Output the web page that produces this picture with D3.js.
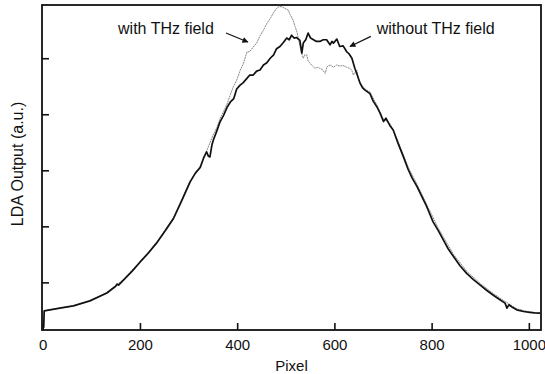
<!DOCTYPE html>
<html>
<head>
<meta charset="utf-8">
<script src="https://cdn.jsdelivr.net/npm/d3@7"></script>
<style>
  body { margin: 0; background: #fff; }
  text { font-family: "Liberation Sans", Arial, Helvetica, sans-serif; fill: #111; }
</style>
</head>
<body>
<div id="graph"></div>
<script>
// chart size, same as the window
var width = 545;
var height = 374;

// x ticks (pixel index of the array detector)
var xTicks = [0, 200, 400, 600, 800, 1000];
// unlabelled y ticks, arbitrary units
var yTicks = [1, 2, 3, 4, 5];

// without THz field (black, thick)
var withoutPixel = [0, 2, 3, 35, 63, 97, 132, 150, 153, 156, 166, 184, 200, 217, 234, 252, 269, 286, 303, 314, 324, 331, 337, 341, 344, 348, 351, 358, 365, 372, 379, 386, 393, 399, 406, 412, 420, 426, 433, 440, 447, 454, 461, 468, 475, 481, 488, 495, 502, 507, 512, 517, 522, 529, 533, 536, 541, 546, 551, 557, 563, 570, 577, 584, 591, 595, 598, 605, 611, 618, 625, 630, 636, 642, 647, 653, 658, 663, 668, 673, 680, 687, 694, 701, 706, 714, 721, 731, 742, 752, 760, 770, 780, 790, 803, 814, 824, 834, 845, 858, 872, 886, 900, 913, 927, 939, 951, 955, 959, 967, 975, 989, 1002, 1012, 1023];
var withoutOutput = [0.18, 0.2, 0.49, 0.54, 0.58, 0.67, 0.81, 0.93, 0.97, 0.95, 1.04, 1.2, 1.36, 1.52, 1.7, 1.92, 2.14, 2.46, 2.79, 2.95, 3.05, 3.22, 3.33, 3.25, 3.24, 3.45, 3.54, 3.7, 3.87, 3.98, 4.12, 4.22, 4.28, 4.45, 4.52, 4.56, 4.64, 4.7, 4.7, 4.77, 4.79, 4.88, 4.92, 5.0, 5.06, 5.17, 5.21, 5.28, 5.36, 5.33, 5.41, 5.36, 5.37, 5.32, 5.09, 5.27, 5.33, 5.45, 5.36, 5.33, 5.3, 5.3, 5.33, 5.33, 5.24, 5.3, 5.27, 5.34, 5.21, 5.22, 5.12, 5.08, 5.0, 4.82, 4.7, 4.55, 4.47, 4.43, 4.4, 4.37, 4.23, 4.14, 4.02, 3.87, 3.93, 3.8, 3.72, 3.48, 3.24, 3.01, 2.86, 2.71, 2.53, 2.35, 2.08, 1.92, 1.76, 1.6, 1.46, 1.3, 1.16, 1.05, 0.95, 0.86, 0.77, 0.7, 0.63, 0.54, 0.6, 0.55, 0.51, 0.48, 0.465, 0.455, 0.45];

// with THz field (grey, thin)
var withPixel = [0, 2, 3, 35, 63, 97, 132, 166, 200, 234, 269, 303, 324, 337, 350, 358, 365, 372, 379, 386, 392, 399, 406, 413, 420, 426, 433, 440, 447, 454, 461, 468, 474, 481, 486, 492, 498, 505, 510, 515, 519, 523, 526, 529, 532, 536, 539, 543, 546, 550, 555, 560, 565, 570, 575, 581, 585, 591, 598, 605, 611, 618, 625, 632, 636, 639, 643, 646, 650, 653, 663, 673, 687, 700, 714, 731, 752, 770, 790, 814, 845, 872, 900, 927, 951, 975, 1002, 1023];
var withOutput = [0.18, 0.2, 0.49, 0.54, 0.58, 0.67, 0.82, 1.05, 1.37, 1.71, 2.16, 2.81, 3.08, 3.34, 3.62, 3.76, 3.93, 4.05, 4.18, 4.35, 4.49, 4.61, 4.78, 4.91, 5.11, 5.12, 5.2, 5.27, 5.4, 5.5, 5.62, 5.71, 5.8, 5.89, 5.92, 5.92, 5.89, 5.86, 5.76, 5.68, 5.57, 5.47, 5.35, 5.21, 5.1, 5.0, 5.06, 5.06, 4.95, 4.91, 4.86, 4.82, 4.84, 4.82, 4.8, 4.73, 4.85, 4.88, 4.84, 4.88, 4.86, 4.87, 4.84, 4.82, 4.78, 4.7, 4.76, 4.79, 4.62, 4.56, 4.45, 4.4, 4.17, 3.92, 3.84, 3.52, 3.05, 2.75, 2.39, 1.96, 1.5, 1.2, 0.98, 0.8, 0.66, 0.53, 0.47, 0.45];

// the two labels with their arrows, in data units
var labelText = ["with THz field", "without THz field"];
var labelAt = [[155, 5.43], [687, 5.43]];
var arrowFrom = [[377, 5.45], [675, 5.39]];
var arrowTo = [[422, 5.29], [632, 5.21]];

window.onload = start;

function start() {
    var svg = d3.select('#graph').append('svg')
        .attr('width', width)
        .attr('height', height);

    svg.append('rect').attr('width', width).attr('height', height).attr('fill', '#fff');

    var left = 42, right = 541, top = 5, bottom = 330;

    var xScale = d3.scaleLinear().domain([-1.5, 1025]).range([left, right]);
    var yScale = d3.scaleLinear().domain([0.15, 5.95]).range([bottom, top]);

    var defs = svg.append('defs');
    defs.append('marker')
        .attr('id', 'head')
        .attr('viewBox', '0 0 10 10')
        .attr('refX', 9).attr('refY', 5)
        .attr('markerWidth', 9).attr('markerHeight', 6)
        .attr('markerUnits', 'userSpaceOnUse')
        .attr('orient', 'auto')
        .append('path')
        .attr('d', 'M0,0 L10,5 L0,10 Z')
        .attr('fill', '#111');

    // x axis, ticks pointing in
    var xAxis = svg.append('g')
        .attr('transform', 'translate(0,' + bottom + ')')
        .call(d3.axisBottom(xScale).tickValues(xTicks).tickFormat(d3.format('d'))
            .tickSizeInner(-7).tickSizeOuter(0).tickPadding(9));
    xAxis.select('.domain').remove();
    xAxis.selectAll('line').attr('stroke', '#111').attr('stroke-width', 1.6);
    xAxis.selectAll('text').attr('font-size', 15).attr('fill', '#111')
        .attr('font-family', '"Liberation Sans", Arial, sans-serif');

    var yAxis = svg.append('g')
        .attr('transform', 'translate(' + left + ',0)')
        .call(d3.axisLeft(yScale).tickValues(yTicks).tickSizeInner(-7).tickSizeOuter(0).tickFormat(''));
    yAxis.select('.domain').remove();
    yAxis.selectAll('line').attr('stroke', '#111').attr('stroke-width', 1.6);

    var line = d3.line()
        .x(function(d) { return xScale(d[0]); })
        .y(function(d) { return yScale(d[1]); });

    var withData = withPixel.map(function(p, i) { return [p, withOutput[i]]; });
    var withoutData = withoutPixel.map(function(p, i) { return [p, withoutOutput[i]]; });

    svg.append('path')
        .datum(withData)
        .attr('d', line)
        .attr('fill', 'none')
        .attr('stroke', '#8a8a8a')
        .attr('stroke-width', 1)
        .attr('stroke-dasharray', '2,0.6');

    svg.append('path')
        .datum(withoutData)
        .attr('d', line)
        .attr('fill', 'none')
        .attr('stroke', '#111')
        .attr('stroke-width', 1.7)
        .attr('stroke-linejoin', 'round');

    // frame
    svg.append('rect')
        .attr('x', left).attr('y', top)
        .attr('width', right - left).attr('height', bottom - top)
        .attr('fill', 'none')
        .attr('stroke', '#111')
        .attr('stroke-width', 1.8);

    // labels and arrows
    for (var i = 0; i < labelText.length; i++) {
        svg.append('text')
            .attr('x', xScale(labelAt[i][0]))
            .attr('y', yScale(labelAt[i][1]))
            .attr('font-size', 16)
            .text(labelText[i]);
        svg.append('line')
            .attr('x1', xScale(arrowFrom[i][0])).attr('y1', yScale(arrowFrom[i][1]))
            .attr('x2', xScale(arrowTo[i][0])).attr('y2', yScale(arrowTo[i][1]))
            .attr('stroke', '#111')
            .attr('stroke-width', 1.2)
            .attr('marker-end', 'url(#head)');
    }

    svg.append('text')
        .attr('x', (left + right) / 2)
        .attr('y', 371)
        .attr('text-anchor', 'middle')
        .attr('font-size', 15)
        .text('Pixel');

    svg.append('text')
        .attr('transform', 'translate(23,164) rotate(-90)')
        .attr('text-anchor', 'middle')
        .attr('font-size', 16)
        .text('LDA Output (a.u.)');
}
</script>
</body>
</html>
